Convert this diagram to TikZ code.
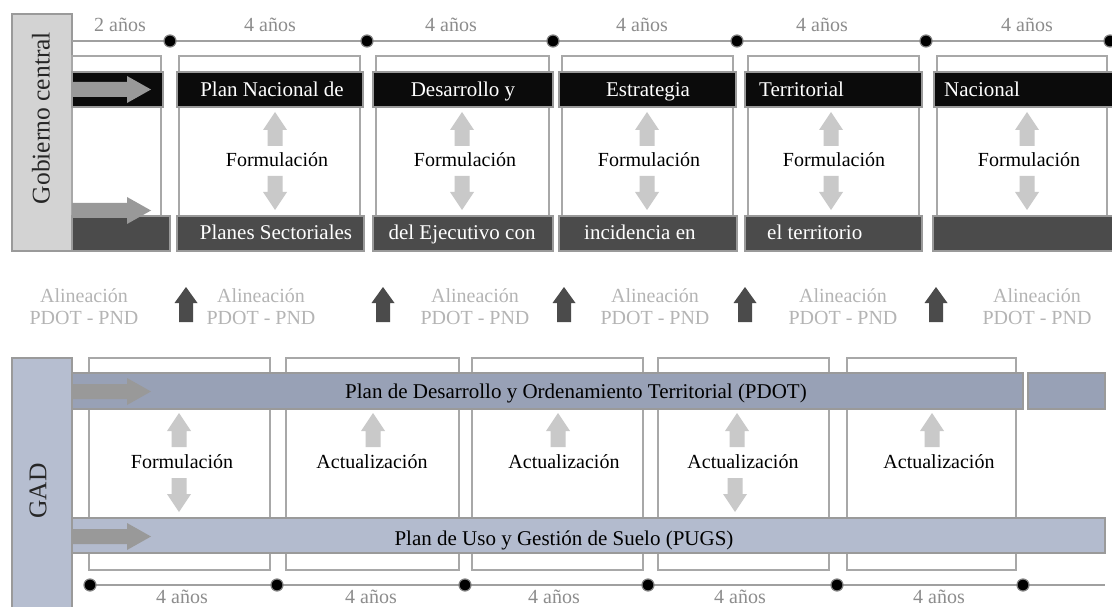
\documentclass[tikz,border=0pt]{standalone}
\usepackage{fontspec}
\setmainfont{Liberation Serif}
\definecolor{boxgray}{HTML}{A8A8A8}
\definecolor{bordgray}{HTML}{9A9A9A}
\definecolor{barblack}{HTML}{0B0B0B}
\definecolor{bardark}{HTML}{4B4B4B}
\definecolor{bigarr}{HTML}{999999}
\definecolor{smallarr}{HTML}{C9C9C9}
\definecolor{yrgray}{HTML}{8C8C8C}
\definecolor{algray}{HTML}{B4B4B4}
\definecolor{gobfill}{HTML}{D3D3D3}
\definecolor{gadfill}{HTML}{B6BED0}
\definecolor{pdotfill}{HTML}{98A1B6}
\definecolor{pugsfill}{HTML}{B3BBCE}
\definecolor{linegray}{HTML}{A0A0A0}
\newcommand\mkbox[6]{\node[#2, anchor=north west, outer sep=0pt, inner sep=0pt, minimum width={#5pt-#3pt}, minimum height={#6pt-#4pt}] (#1) at (#3,#4) {};}
\begin{document}
\begin{tikzpicture}[x=1pt, y=-1pt,
  frame/.style={draw=boxgray, line width=1.3pt, fill=white},
  blackbar/.style={draw=bordgray, line width=1.2pt, fill=barblack},
  darkbar/.style={draw=bordgray, line width=1.2pt, fill=bardark},
  gobbox/.style={draw=bordgray, line width=1.2pt, fill=gobfill},
  gadbox/.style={draw=bordgray, line width=1.2pt, fill=gadfill},
  pdotbar/.style={draw=bordgray, line width=1.2pt, fill=pdotfill},
  pugsbar/.style={draw=bordgray, line width=1.2pt, fill=pugsfill},
  txt/.style={font=\fontsize{20}{24}\selectfont, inner sep=0pt, anchor=base},
  bartxt/.style={font=\fontsize{21}{25}\selectfont, inner sep=0pt, anchor=base},
  wtxt/.style={bartxt, text=white},
  btxt/.style={txt, text=black},
  bbtxt/.style={bartxt, text=black},
  ytxt/.style={txt, text=yrgray},
  atxt/.style={txt, text=algray},
  vtxt/.style={font=\fontsize{25.5}{28}\selectfont, inner sep=0pt, rotate=90, text=black!85},
  tdot/.style={circle, fill=black, draw=gray, line width=1.2pt, minimum size=12pt, inner sep=0pt},
  tline/.style={draw=linegray, line width=1.5pt},
  bigarrow/.pic={\fill[bigarr] (0,-7.5) -- (55,-7.5) -- (55,-13.5) -- (79,0) -- (55,13.5) -- (55,7.5) -- (0,7.5) -- cycle;},
  smallarrow/.pic={\fill[smallarr] (0,0) -- (12,18) -- (7.5,18) -- (7.5,34) -- (-7.5,34) -- (-7.5,18) -- (-12,18) -- cycle;},
  alarrow/.pic={\fill[bardark] (0,0) -- (11.5,16) -- (7,16) -- (7,35) -- (-7,35) -- (-7,16) -- (-11.5,16) -- cycle;}
]
\useasboundingbox (0,0) rectangle (1112,607);

% ===== Gobierno central =====
\mkbox{gob}{gobbox}{12}{14}{72}{251}
\node[vtxt] (gobt) at (41,118) {Gobierno central};

% top timeline
\coordinate (tl0) at (72,41);
\coordinate (td0) at (170,41);
\coordinate (td1) at (367,41);
\coordinate (td2) at (553,41);
\coordinate (td3) at (737,41);
\coordinate (td4) at (926,41);
\coordinate (td5) at (1110,41);
\coordinate (tl1) at (1112,41);
\draw[tline] (tl0) -- (tl1);
\foreach \i in {0,...,5} {\node[tdot] (tdn\i) at (td\i) {};}
\node[ytxt] (ty0) at (120,32) {2 años};
\node[ytxt] (ty1) at (270,32) {4 años};
\node[ytxt] (ty2) at (451,32) {4 años};
\node[ytxt] (ty3) at (642,32) {4 años};
\node[ytxt] (ty4) at (822,32) {4 años};
\node[ytxt] (ty5) at (1027,32) {4 años};

% frames
\mkbox{tf0}{frame}{72}{56}{161}{216}
\mkbox{tf1}{frame}{179}{56}{360}{216}
\mkbox{tf2}{frame}{376}{56}{549}{216}
\mkbox{tf3}{frame}{562}{56}{733}{216}
\mkbox{tf4}{frame}{748}{56}{919}{216}
\mkbox{tf5}{frame}{937}{56}{1107}{216}

% black bars
\mkbox{nb0}{blackbar}{72}{72}{163}{107}
\mkbox{nb1}{blackbar}{177}{72}{363}{107}
\mkbox{nb2}{blackbar}{373}{72}{553}{107}
\mkbox{nb3}{blackbar}{559}{72}{736}{107}
\mkbox{nb4}{blackbar}{745}{72}{922}{107}
\mkbox{nb5}{blackbar}{934}{72}{1113}{107}
% dark bars
\mkbox{db0}{darkbar}{72}{216}{170}{251}
\mkbox{db1}{darkbar}{177}{216}{364}{251}
\mkbox{db2}{darkbar}{373}{216}{553}{251}
\mkbox{db3}{darkbar}{559}{216}{737}{251}
\mkbox{db4}{darkbar}{745}{216}{922}{251}
\mkbox{db5}{darkbar}{933}{216}{1113}{251}

\node[wtxt] (nt1) at (272,97) {Plan Nacional de};
\node[wtxt] (nt2) at (463,97) {Desarrollo y};
\node[wtxt] (nt3) at (648,97) {Estrategia};
\node[wtxt, anchor=base west] (nt4) at (759,97) {Territorial};
\node[wtxt, anchor=base west] (nt5) at (944,97) {Nacional};
\node[wtxt] (dt1) at (276,240) {Planes Sectoriales};
\node[wtxt] (dt2) at (462,240) {del Ejecutivo con};
\node[wtxt, anchor=base west] (dt3) at (584,240) {incidencia en};
\node[wtxt, anchor=base west] (dt4) at (767,240) {el territorio};

% big arrows
\pic at (72,89.5) {bigarrow};
\pic at (72,210.5) {bigarrow};

% formulation arrows and labels
\foreach \x/\tx [count=\k] in {275/277, 462/465, 647/649, 831/834, 1027/1029} {
  \pic at (\x,112) {smallarrow};
  \pic[rotate=180] at (\x,210) {smallarrow};
  \node[btxt] (tform\k) at (\tx,167) {Formulación};
}

% ===== Alignment row =====
\foreach \x [count=\k] in {84, 261, 475, 655, 843, 1037} {
  \node[atxt] (al\k) at (\x,302) {Alineación};
  \node[atxt] (ap\k) at (\x,324) {PDOT - PND};
}
\foreach \x in {186, 383, 564, 745, 936} {
  \pic at (\x,287) {alarrow};
}

% ===== GAD =====
\mkbox{gad}{gadbox}{12}{358}{72}{612}
\node[vtxt] (gadt) at (38,491) {GAD};

\mkbox{bf1}{frame}{89}{358}{270}{570}
\mkbox{bf2}{frame}{286}{358}{459}{570}
\mkbox{bf3}{frame}{472}{358}{643}{570}
\mkbox{bf4}{frame}{658}{358}{829}{570}
\mkbox{bf5}{frame}{847}{358}{1016}{570}

\mkbox{pdot}{pdotbar}{72}{373}{1023}{409}
\mkbox{pdotb}{pdotbar}{1028}{373}{1105}{409}
\mkbox{pugs}{pugsbar}{72}{518}{1105}{553}
\node[bbtxt] (pdott) at (576,398) {Plan de Desarrollo y Ordenamiento Territorial (PDOT)};
\node[bbtxt] (pugst) at (564,545) {Plan de Uso y Gestión de Suelo (PUGS)};

\pic at (72,391.5) {bigarrow};
\pic at (72,536.5) {bigarrow};

\pic at (179,413) {smallarrow};
\pic[rotate=180] at (179,512) {smallarrow};
\node[btxt] (gf1) at (182,468) {Formulación};
\pic at (373,413) {smallarrow};
\node[btxt] (ga2) at (372,468) {Actualización};
\pic at (558,413) {smallarrow};
\node[btxt] (ga3) at (564,468) {Actualización};
\pic at (737,413) {smallarrow};
\pic[rotate=180] at (735,512) {smallarrow};
\node[btxt] (ga4) at (743,468) {Actualización};
\pic at (932,413) {smallarrow};
\node[btxt] (ga5) at (939,468) {Actualización};

% bottom timeline
\coordinate (bd0) at (90,585);
\coordinate (bd1) at (277,585);
\coordinate (bd2) at (465,585);
\coordinate (bd3) at (648,585);
\coordinate (bd4) at (837,585);
\coordinate (bd5) at (1023,585);
\coordinate (bl1) at (1105,585);
\draw[tline] (bd0) -- (bl1);
\foreach \i in {0,...,5} {\node[tdot] (bdn\i) at (bd\i) {};}
\node[ytxt] (by1) at (182,603) {4 años};
\node[ytxt] (by2) at (371,603) {4 años};
\node[ytxt] (by3) at (554,603) {4 años};
\node[ytxt] (by4) at (740,603) {4 años};
\node[ytxt] (by5) at (939,603) {4 años};
\end{tikzpicture}
\end{document}
